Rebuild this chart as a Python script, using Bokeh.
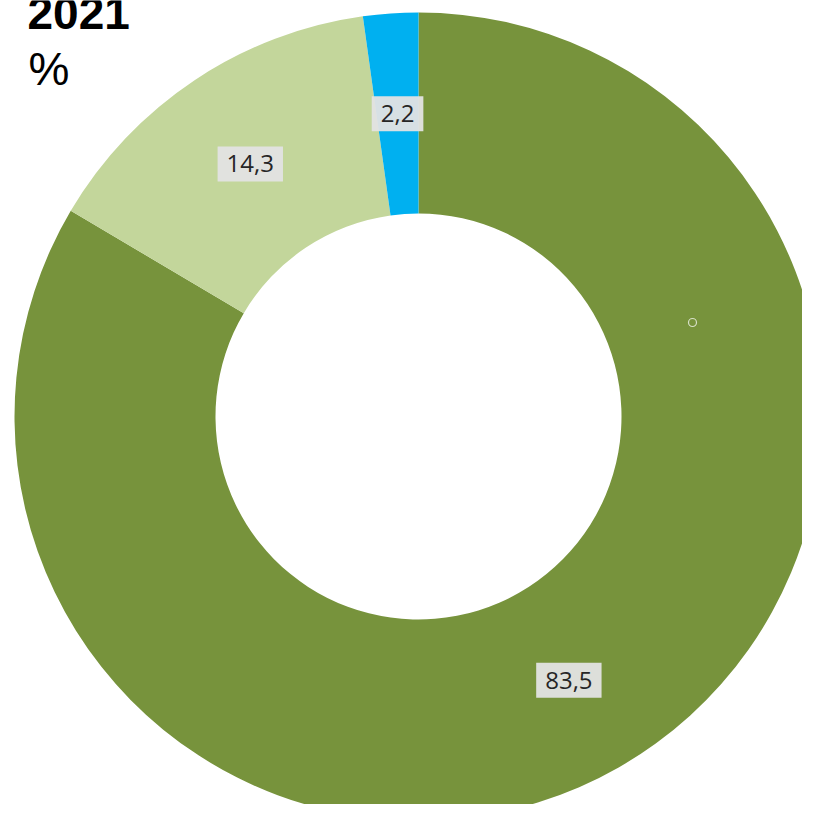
import numpy as np
from bokeh.plotting import figure
from bokeh.models import Range1d, ColumnDataSource
from bokeh.core.properties import value
from bokeh.embed import file_html
from bokeh.resources import INLINE

# data
categories = ["A", "B", "C"]
values = [83.5, 14.3, 2.2]
labels = ["83,5", "14,3", "2,2"]
colors = ["#77933C", "#C3D69B", "#00B0F0"]
title_text = "2021"
unit_text = "%"

W, H = 802, 804
p = figure(width=W, height=H, output_backend="svg", toolbar_location=None,
           x_range=Range1d(0, W), y_range=Range1d(0, H),
           min_border=0, outline_line_color=None, background_fill_color="white")
p.axis.visible = False
p.grid.visible = False


def sy(y):
    return H - y


cx, cy = 418, sy(416)
r_out, r_in = 404, 203

v = np.array(values, dtype=float)
frac = v / v.sum()
cum_after = np.cumsum(frac)
cum_before = cum_after - frac
start = np.pi / 2 - cum_after * 2 * np.pi
end = np.pi / 2 - cum_before * 2 * np.pi
mid = (start + end) / 2
r_mid = (r_out + r_in) / 2

src = ColumnDataSource(dict(cat=categories, start=start, end=end, color=colors,
                            lx=cx + r_mid * np.cos(mid), ly=cy + r_mid * np.sin(mid),
                            label=labels))

p.annular_wedge(x=cx, y=cy, inner_radius=r_in, outer_radius=r_out,
                start_angle="start", end_angle="end", fill_color="color",
                line_color=None, source=src)

p.text(x="lx", y="ly", text="label", source=src, text_align="center",
       text_baseline="middle", text_font=value("Open Sans"), text_font_size="24px",
       text_color="#262626", background_fill_color="#E3E3E3", background_fill_alpha=0.95,
       padding=9)

# small artifact circle
p.scatter(x=[692], y=[sy(322)], size=8, marker="circle", fill_color="#77933C",
          line_color="#D8E0C8", line_width=1.2)

p.text(x=[27], y=[sy(12)], text=[title_text], text_font=value("Liberation Sans"),
       text_font_size="46px", text_font_style="bold", text_color="black",
       text_baseline="alphabetic")
p.text(x=[28], y=[sy(68)], text=[unit_text], text_font=value("Liberation Sans"),
       text_font_size="46px", text_color="black", text_baseline="alphabetic")

open("out.html", "w").write(file_html(p, INLINE))
